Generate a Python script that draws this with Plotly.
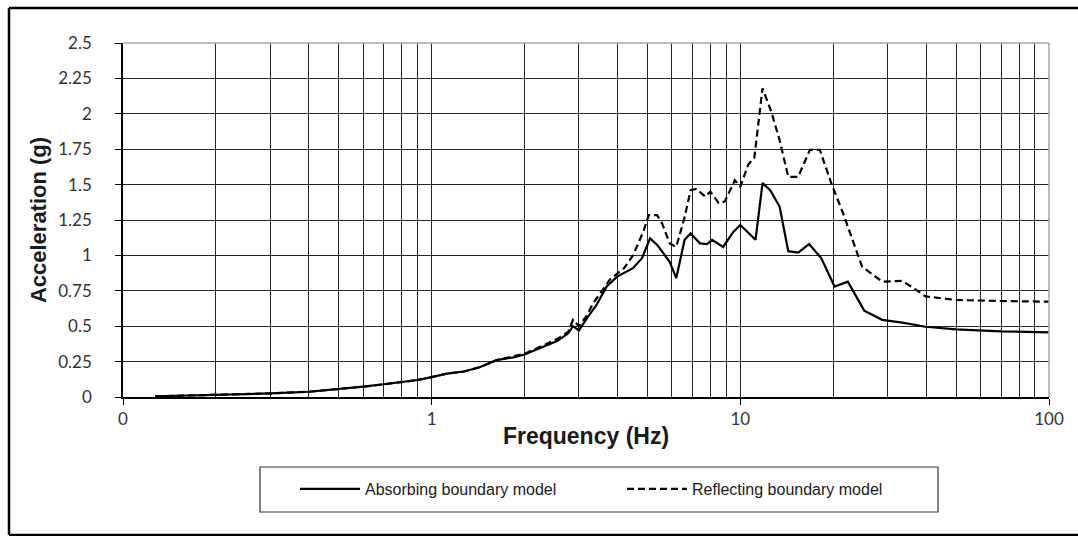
import plotly.graph_objects as go

# ---- data ----
freq_absorbing = [0.127, 0.2, 0.3, 0.4, 0.5, 0.6, 0.7, 0.8, 0.9, 1.0, 1.12, 1.27, 1.43, 1.62, 1.84,
                  2.0, 2.25, 2.55, 2.77, 2.87, 3.0, 3.17, 3.42, 3.69, 3.99, 4.49, 4.8, 5.1, 5.4, 5.9,
                  6.2, 6.6, 6.9, 7.4, 7.8, 8.1, 8.8, 9.5, 10.0, 10.5, 11.2, 11.8, 12.5, 13.4, 14.3,
                  15.4, 16.7, 18.3, 20.2, 22.3, 25.2, 28.8, 33.5, 39.8, 50, 70, 100]
acc_absorbing = [0.005, 0.015, 0.025, 0.037, 0.054, 0.073, 0.09, 0.105, 0.12, 0.14, 0.165, 0.18, 0.21,
                 0.26, 0.28, 0.30, 0.345, 0.395, 0.45, 0.5, 0.47, 0.55, 0.65, 0.78, 0.85, 0.91, 0.98,
                 1.12, 1.07, 0.955, 0.84, 1.11, 1.155, 1.085, 1.08, 1.11, 1.06, 1.167, 1.215, 1.167,
                 1.11, 1.51, 1.46, 1.345, 1.03, 1.02, 1.08, 0.98, 0.78, 0.815, 0.61, 0.545, 0.525,
                 0.496, 0.478, 0.464, 0.457]

freq_reflecting = [0.127, 0.2, 0.3, 0.4, 0.5, 0.6, 0.7, 0.8, 0.9, 1.0, 1.12, 1.27, 1.43, 1.62, 1.84,
                   2.0, 2.25, 2.55, 2.77, 2.87, 3.0, 3.17, 3.33, 3.78, 4.2, 4.49, 4.85, 5.05, 5.37,
                   5.57, 5.9, 6.2, 6.6, 6.9, 7.2, 7.7, 8.0, 8.5, 8.9, 9.6, 10.0, 10.6, 11.1, 11.8,
                   12.6, 13.4, 14.3, 15.4, 16.8, 18.1, 19.7, 21.5, 24.8, 28.8, 33.4, 36.4, 39.8,
                   50, 70, 100]
acc_reflecting = [0.005, 0.015, 0.025, 0.037, 0.054, 0.073, 0.09, 0.105, 0.12, 0.14, 0.165, 0.18,
                  0.21, 0.26, 0.29, 0.305, 0.355, 0.41, 0.46, 0.545, 0.5, 0.57, 0.66, 0.83, 0.91,
                  1.0, 1.167, 1.285, 1.285, 1.23, 1.085, 1.06, 1.27, 1.46, 1.47, 1.415, 1.45, 1.37,
                  1.38, 1.53, 1.485, 1.64, 1.69, 2.18, 2.015, 1.815, 1.555, 1.555, 1.745, 1.745,
                  1.51, 1.30, 0.92, 0.815, 0.82, 0.77, 0.71, 0.685, 0.678, 0.673]

series_names = ["Absorbing boundary model", "Reflecting boundary model"]

x_major_vals = [0.1, 1, 10, 100]
x_major_text = ["0", "1", "10", "100"]
x_minor_vals = [m * d for d in (0.1, 1, 10) for m in range(2, 10)]

y_vals = [0, 0.25, 0.5, 0.75, 1, 1.25, 1.5, 1.75, 2, 2.25, 2.5]
y_text = ["0", "0.25", "0.5", "0.75", "1", "1.25", "1.5", "1.75", "2", "2.25", "2.5"]

W, H = 1078, 536
L, R, T, B = 123, 1049, 43, 397

def px(xp):
    return (xp - L) / (R - L)

def py(yp):
    return (B - yp) / (B - T)

grid = "#262626"

fig = go.Figure()
fig.add_trace(go.Scatter(x=freq_absorbing, y=acc_absorbing, mode="lines", name=series_names[0],
                         line=dict(color="black", width=2.2)))
fig.add_trace(go.Scatter(x=freq_reflecting, y=acc_reflecting, mode="lines", name=series_names[1],
                         line=dict(color="black", width=2.2, dash="7px,4px")))

frame = dict(color="black", width=2.5)

fig.update_layout(
    width=W, height=H,
    margin=dict(l=L, r=W - R, t=T, b=H - B, autoexpand=False),
    paper_bgcolor="white", plot_bgcolor="white",
    showlegend=True,
    legend=dict(orientation="h", x=px(295), y=py(472), xanchor="left", yanchor="top",
                borderwidth=0, bgcolor="rgba(0,0,0,0)",
                entrywidth=252, itemwidth=60,
                font=dict(family="Liberation Sans, Arial", size=16, color="#1a1a1a")),
    xaxis=dict(type="log", range=[-1, 2], tickvals=x_major_vals, ticktext=x_major_text,
               showgrid=True, gridcolor=grid, gridwidth=1.4,
               ticks="outside", ticklen=6, tickcolor="black", tickwidth=1.3,
               showline=True, linecolor="black", linewidth=1.5,
               tickfont=dict(family="Lato, Open Sans", size=17, color="#333333"),
               minor=dict(tickvals=x_minor_vals, showgrid=True, gridcolor=grid, gridwidth=1.4, ticks=""),
               title=dict(text="<b>Frequency (Hz)</b>", standoff=0,
                          font=dict(family="Liberation Sans, Arial", size=23, color="#1a1a1a")),
               zeroline=False, automargin=False),
    yaxis=dict(range=[0, 2.5], tickvals=y_vals, ticktext=y_text,
               showgrid=True, gridcolor=grid, gridwidth=1.4,
               ticks="outside", ticklen=6, tickcolor="black", tickwidth=1.3,
               showline=True, linecolor="black", linewidth=1.5,
               ticklabelstandoff=20,
               tickfont=dict(family="Lato, Open Sans", size=17, color="#333333"),
               title=dict(text="<b>Acceleration (g)</b>", standoff=6,
                          font=dict(family="Liberation Sans, Arial", size=22, color="#1a1a1a")),
               zeroline=False, automargin=False),
    shapes=[
        # outer chart frame (top, left, bottom; right edge is outside the picture)
        dict(type="line", xref="paper", yref="paper", x0=px(9), x1=px(1078), y0=py(8), y1=py(8),
             line=frame, layer="above"),
        dict(type="line", xref="paper", yref="paper", x0=px(9), x1=px(1078), y0=py(535), y1=py(535),
             line=frame, layer="above"),
        dict(type="line", xref="paper", yref="paper", x0=px(9), x1=px(9), y0=py(535), y1=py(8),
             line=frame, layer="above"),
        # legend box
        dict(type="rect", xref="paper", yref="paper", x0=px(260), x1=px(938), y0=py(512), y1=py(467),
             line=dict(color="#333333", width=1.2), fillcolor="rgba(0,0,0,0)", layer="above"),
        # light plot-area border on top/right
        dict(type="line", xref="paper", yref="paper", x0=0, x1=1, y0=1, y1=1,
             line=dict(color="#a6a6a6", width=1.5), layer="above"),
        dict(type="line", xref="paper", yref="paper", x0=1, x1=1, y0=0, y1=1,
             line=dict(color="#a6a6a6", width=1.5), layer="above"),
    ],
)

fig.write_html("out.html")
